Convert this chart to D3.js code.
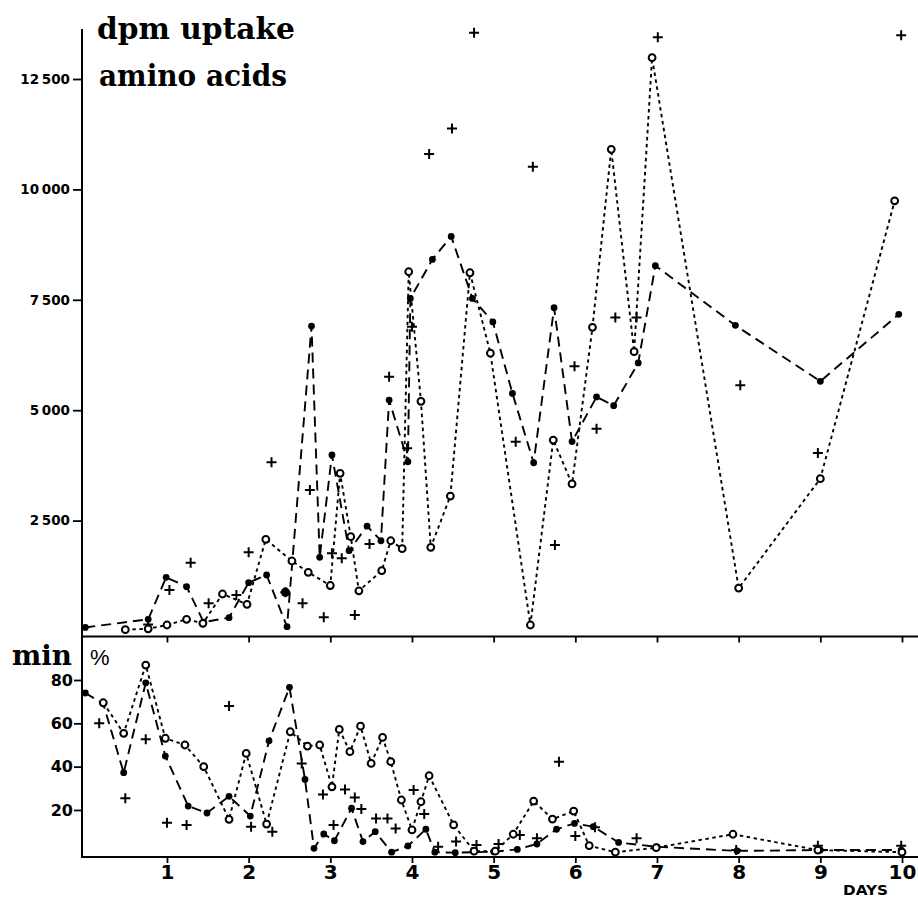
<!DOCTYPE html>
<html>
<head>
<meta charset="utf-8">
<script src="https://cdn.jsdelivr.net/npm/d3@7"></script>
<style>
  body { margin: 0; background: #fff; }
  svg { display: block; }
</style>
</head>
<body>
<svg id="chart" width="918" height="901"></svg>
<script>
// ---- Upper panel: dpm uptake of amino acids ----
// filled circles, long-dashed line
const uptakeDotDays   = [0, 0.77, 0.99, 1.24, 1.45, 1.76, 2.0, 2.22, 2.47, 2.77, 2.87, 3.02, 3.23, 3.45, 3.62, 3.72, 3.95, 3.98, 4.25, 4.48, 4.74, 4.99, 5.23, 5.49, 5.74, 5.96, 6.26, 6.47, 6.77, 6.98, 7.96, 9.0, 9.96];
const uptakeDotValues = [80, 265, 1216, 1003, 200, 302, 1094, 1268, 97, 6905, 1668, 3985, 1818, 2377, 2044, 5230, 3833, 7532, 8415, 8935, 7532, 7000, 5381, 3810, 7320, 4290, 5300, 5103, 6070, 8273, 6921, 5655, 7170];
// open circles, dotted line
const uptakeRingDays   = [0.49, 0.77, 1.0, 1.24, 1.44, 1.68, 1.98, 2.21, 2.53, 2.73, 3.0, 3.12, 3.25, 3.35, 3.63, 3.74, 3.88, 3.96, 4.11, 4.23, 4.47, 4.71, 4.96, 5.45, 5.73, 5.96, 6.21, 6.44, 6.72, 6.94, 8.0, 9.0, 9.91];
const uptakeRingValues = [30, 50, 136, 265, 174, 838, 604, 2076, 1585, 1329, 1030, 3570, 2135, 910, 1365, 2044, 1865, 8135, 5200, 1895, 3056, 8112, 6290, 136, 4324, 3330, 6876, 10908, 6326, 12984, 971, 3450, 9742];
// crosses, no line
const uptakeCrossDays   = [0.77, 1.03, 1.29, 1.51, 1.85, 2.0, 2.28, 2.45, 2.66, 2.75, 2.92, 3.02, 3.14, 3.30, 3.48, 3.72, 3.94, 4.0, 4.21, 4.49, 4.76, 5.27, 5.48, 5.75, 5.99, 6.26, 6.49, 6.75, 7.01, 8.02, 8.97, 9.99];
const uptakeCrossValues = [150, 928, 1546, 627, 815, 1782, 3819, 880, 627, 3192, 310, 1760, 1646, 362, 1970, 5757, 4136, 6890, 10800, 11381, 13550, 4286, 10512, 1947, 5995, 4580, 7098, 7098, 13443, 5563, 4030, 13489];
// a lone filled dot off the dashed line
const uptakeLoneDays   = [2.45];
const uptakeLoneValues = [880];

// ---- Lower panel: percent (min) ----
const pctDotDays   = [0, 0.22, 0.47, 0.74, 0.98, 1.26, 1.49, 1.76, 2.02, 2.25, 2.5, 2.69, 2.8, 2.92, 3.05, 3.26, 3.4, 3.55, 3.75, 3.95, 4.17, 4.28, 4.53, 5.0, 5.29, 5.53, 5.77, 5.99, 6.22, 6.53, 7.0, 7.98, 9.0, 9.99];
const pctDotValues = [74, 69, 37.2, 78.7, 44.9, 21.8, 18.6, 26.3, 17.2, 51.9, 76.6, 34.1, 2.3, 8.9, 5.8, 20.8, 5.4, 10, 0.5, 3.4, 11.1, 0.5, 0.3, 0.7, 1.8, 4.3, 11.1, 13.8, 12.3, 5, 3, 1.1, 1.5, 1.5];
const pctRingDays   = [0.22, 0.47, 0.74, 0.98, 1.22, 1.45, 1.76, 1.97, 2.22, 2.51, 2.72, 2.87, 3.02, 3.11, 3.24, 3.37, 3.5, 3.64, 3.74, 3.87, 4.0, 4.11, 4.21, 4.51, 4.76, 5.02, 5.24, 5.49, 5.72, 5.98, 6.17, 6.49, 6.99, 7.93, 8.97, 10.0];
const pctRingValues = [69.5, 55.4, 86.9, 53.1, 50, 40, 15.7, 46.1, 13.5, 56.1, 49.5, 50, 30.7, 57.2, 46.9, 58.7, 41.5, 53.5, 42.3, 24.6, 10.8, 23.8, 35.8, 13.1, 1, 1, 8.8, 24.1, 15.8, 19.5, 3.5, 0.5, 2.6, 8.8, 1.5, 0.5];
const pctCrossDays   = [0.17, 0.49, 0.74, 1.0, 1.24, 1.76, 2.03, 2.29, 2.65, 2.91, 3.04, 3.18, 3.3, 3.38, 3.56, 3.7, 3.8, 4.02, 4.15, 4.32, 4.54, 4.79, 5.06, 5.32, 5.53, 5.8, 6.0, 6.24, 6.75, 7.97, 8.97, 9.99];
const pctCrossValues = [60, 25.4, 52.6, 14.1, 13.1, 68, 12.3, 10, 41.5, 27.2, 13.1, 29.5, 25.8, 20.4, 16.1, 16.1, 11.5, 29.2, 18.1, 3, 5.4, 3.8, 4.3, 8.4, 6.9, 42.3, 8, 12, 6.9, 1.5, 3.5, 3.5];

// ---- Axis ticks ----
const dayTicks = [1, 2, 3, 4, 5, 6, 7, 8, 9, 10];
const uptakeTicks = [2500, 5000, 7500, 10000, 12500];
const pctTicks = [20, 40, 60, 80];

const svg = d3.select("#chart");
const axisX = 82;
const topAxisY = 636.5;
const botAxisY = 857;

const x = d3.scaleLinear().domain([0, 10]).range([85.3, 902]);
const yTop = d3.scaleLinear().domain([0, 12500]).range([631, 79]);
const yBot = d3.scaleLinear().domain([0, 80]).range([853.3, 680]);

const zip = (a, b) => a.map((d, i) => [d, b[i]]);

// axis lines
const axes = svg.append("g").attr("stroke", "#000").attr("stroke-width", 2);
axes.append("line").attr("x1", axisX).attr("x2", axisX).attr("y1", 29).attr("y2", botAxisY + 1);
axes.append("line").attr("x1", axisX - 1).attr("x2", 918).attr("y1", topAxisY).attr("y2", topAxisY);
axes.append("line").attr("x1", axisX - 1).attr("x2", 918).attr("y1", botAxisY).attr("y2", botAxisY);

function styleAxis(g) {
  g.select(".domain").remove();
  g.selectAll(".tick line").attr("stroke", "#000").attr("stroke-width", 1.8);
  g.selectAll(".tick text").attr("fill", "#000");
}

const spaced = d => d3.format(",")(d).replace(",", "\u2009");

svg.append("g")
  .attr("transform", `translate(${axisX},0)`)
  .call(d3.axisLeft(yTop).tickValues(uptakeTicks).tickSize(9).tickPadding(3).tickFormat(spaced))
  .call(styleAxis)
  .selectAll("text").style("font", "bold 13.5px 'DejaVu Sans'");

svg.append("g")
  .attr("transform", `translate(0,${topAxisY})`)
  .call(d3.axisBottom(x).tickValues(dayTicks).tickSize(6).tickFormat(""))
  .call(styleAxis);

svg.append("g")
  .attr("transform", `translate(${axisX},0)`)
  .call(d3.axisLeft(yBot).tickValues(pctTicks).tickSize(8).tickPadding(1))
  .call(styleAxis)
  .selectAll("text").style("font", "bold 16px 'DejaVu Sans'");

svg.append("g")
  .attr("transform", `translate(0,${botAxisY})`)
  .call(d3.axisBottom(x).tickValues(dayTicks).tickSize(6).tickPadding(2))
  .call(styleAxis)
  .selectAll("text").style("font", "bold 20px 'DejaVu Sans'");

// series drawing helpers
function drawLine(pts, yScale, dash) {
  svg.append("path")
    .datum(pts)
    .attr("fill", "none")
    .attr("stroke", "#000")
    .attr("stroke-width", 1.9)
    .attr("stroke-dasharray", dash)
    .attr("d", d3.line().x(d => x(d[0])).y(d => yScale(d[1])));
}
function drawDots(pts, yScale, r) {
  svg.append("g").selectAll("circle").data(pts).join("circle")
    .attr("cx", d => x(d[0])).attr("cy", d => yScale(d[1])).attr("r", r || 3.4)
    .attr("fill", "#000");
}
function drawRings(pts, yScale) {
  svg.append("g").selectAll("circle").data(pts).join("circle")
    .attr("cx", d => x(d[0])).attr("cy", d => yScale(d[1])).attr("r", 3.4)
    .attr("fill", "#fff").attr("stroke", "#000").attr("stroke-width", 2);
}
function drawCrosses(pts, yScale) {
  svg.append("g").selectAll("path").data(pts).join("path")
    .attr("transform", d => `translate(${x(d[0])},${yScale(d[1])})`)
    .attr("d", "M-5,0H5M0,-5V5")
    .attr("stroke", "#000").attr("stroke-width", 2).attr("fill", "none");
}

const longDash = "10,6";
const dotted = "3.5,3.5";

// upper panel
const uDot = zip(uptakeDotDays, uptakeDotValues);
const uRing = zip(uptakeRingDays, uptakeRingValues);
drawLine(uDot, yTop, longDash);
drawLine(uRing, yTop, dotted);
drawCrosses(zip(uptakeCrossDays, uptakeCrossValues), yTop);
drawDots(uDot, yTop);
drawDots(zip(uptakeLoneDays, uptakeLoneValues), yTop, 4.6);
drawRings(uRing, yTop);

// lower panel
const pDot = zip(pctDotDays, pctDotValues);
const pRing = zip(pctRingDays, pctRingValues);
drawLine(pDot, yBot, longDash);
drawLine(pRing, yBot, dotted);
drawCrosses(zip(pctCrossDays, pctCrossValues), yBot);
drawDots(pDot, yBot);
drawRings(pRing, yBot);

// titles and labels
const serif = "'DejaVu Serif', serif";
svg.append("text").attr("x", 97).attr("y", 39)
  .attr("textLength", 198).attr("lengthAdjust", "spacingAndGlyphs")
  .style("font", `bold 29px ${serif}`).text("dpm uptake");
svg.append("text").attr("x", 99).attr("y", 86)
  .attr("textLength", 188).attr("lengthAdjust", "spacingAndGlyphs")
  .style("font", `bold 29px ${serif}`).text("amino acids");
svg.append("text").attr("x", 12).attr("y", 665)
  .attr("textLength", 60).attr("lengthAdjust", "spacingAndGlyphs")
  .style("font", `bold 28px ${serif}`).text("min");
svg.append("text").attr("x", 90).attr("y", 665)
  .style("font", "22px 'Liberation Sans', sans-serif").text("%");
svg.append("text").attr("x", 843).attr("y", 895)
  .attr("textLength", 45).attr("lengthAdjust", "spacingAndGlyphs")
  .style("font", "bold 14px 'DejaVu Sans', sans-serif").text("DAYS");
</script>
</body>
</html>
